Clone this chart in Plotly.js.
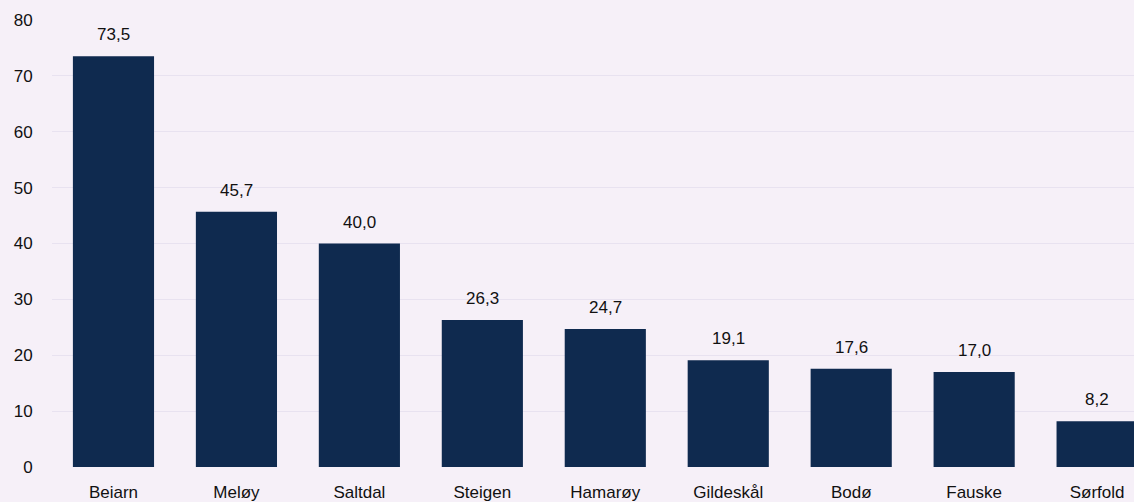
<!DOCTYPE html>
<html>
<head>
<meta charset="utf-8">
<script src="https://cdn.plot.ly/plotly-3.0.1.min.js"></script>
<style>html,body{margin:0;padding:0;background:#f6f0f8;}#chart{width:1134px;height:502px;}</style>
</head>
<body>
<div id="chart"></div>
<script>
const categories = ["Beiarn", "Meløy", "Saltdal", "Steigen", "Hamarøy", "Gildeskål", "Bodø", "Fauske", "Sørfold"];
const values = [73.5, 45.7, 40.0, 26.3, 24.7, 19.1, 17.6, 17.0, 8.2];
const yTicks = [0, 10, 20, 30, 40, 50, 60, 70, 80];

const fmt = v => v.toFixed(1).replace(".", ",");

const trace = {
  type: "bar",
  x: categories,
  y: values,
  marker: {color: "#0f2a4f"},
  hoverinfo: "x+y"
};

const annotations = categories.map((c, i) => ({
  x: c, y: values[i], xref: "x", yref: "y",
  text: fmt(values[i]), showarrow: false,
  yanchor: "bottom", yshift: 10,
  font: {family: "Liberation Sans, Arial, sans-serif", size: 17, color: "#111"}
}));

const layout = {
  width: 1134, height: 502,
  margin: {l: 52, r: 0, t: 20, b: 35},
  paper_bgcolor: "#f6f0f8",
  plot_bgcolor: "#f6f0f8",
  bargap: 0.34,
  showlegend: false,
  font: {family: "Liberation Sans, Arial, sans-serif", size: 17, color: "#111"},
  xaxis: {
    type: "category",
    range: [-0.5, 8.3],
    showgrid: false, zeroline: false, showline: false,
    ticks: "outside", ticklen: 10, tickcolor: "rgba(0,0,0,0)",
    tickfont: {size: 17, color: "#111"}
  },
  yaxis: {
    range: [0, 80],
    tickvals: yTicks,
    ticktext: yTicks.map(String),
    showgrid: true, gridcolor: "#e8e2f0", gridwidth: 1,
    zeroline: false, showline: false,
    ticks: "outside", ticklen: 15, tickcolor: "rgba(0,0,0,0)",
    tickfont: {size: 17, color: "#111"}
  },
  annotations: annotations
};

Plotly.newPlot("chart", [trace], layout, {displayModeBar: false, staticPlot: true});
</script>
</body>
</html>
